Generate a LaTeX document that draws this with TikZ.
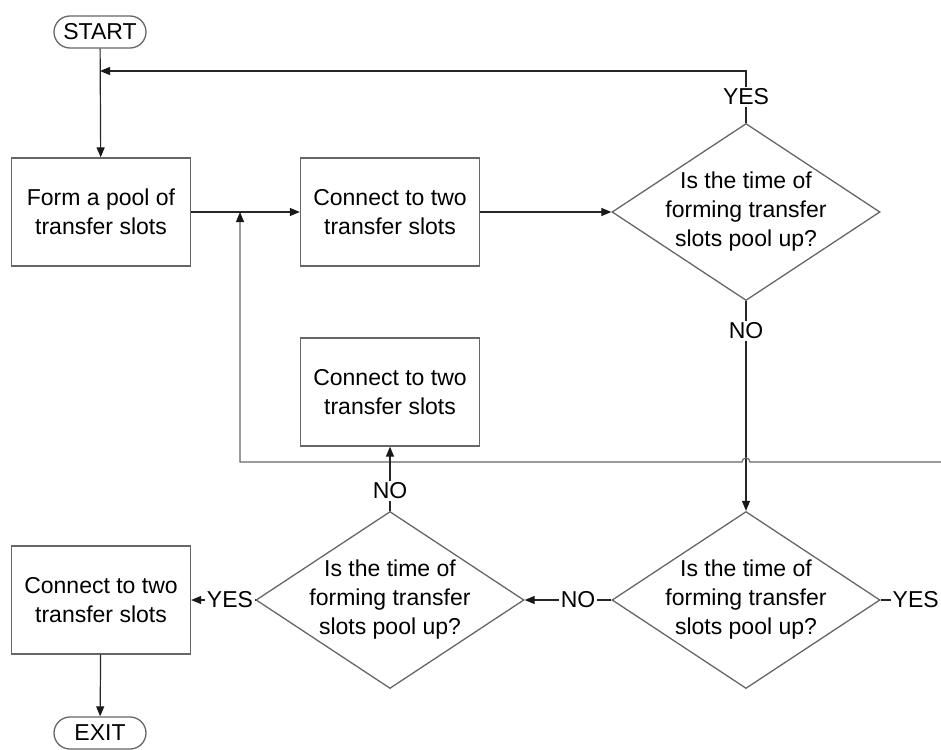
\documentclass[tikz,border=0pt]{standalone}
\usepackage{fontspec}
\setmainfont{Liberation Sans}
\usetikzlibrary{shapes.geometric,arrows.meta}
\begin{document}
\begin{tikzpicture}[x=1pt,y=-1pt,
  every node/.style={font=\fontsize{23}{29}\selectfont},
  proc/.style={draw=black!60,line width=1.3pt,minimum width=179pt,minimum height=108pt,align=center,inner sep=0pt},
  term/.style={draw=black!60,line width=1.3pt,rounded corners=16pt,minimum width=92pt,minimum height=32pt,inner sep=0pt},
  dec/.style={draw=black!60,line width=1.3pt,diamond,minimum width=268pt,minimum height=177pt,inner sep=0pt},
  dectext/.style={align=center,inner sep=0pt},
  tag/.style={inner sep=1.5pt},
  conn/.style={draw=black!85,line width=1.2pt},
  arr/.style={conn,-{Triangle[length=10pt,width=8pt,color=black!90]}}]
\useasboundingbox (0,0) rectangle (941,749);

% terminals
\node[term] (start) at (100,32) {START};
\node[term] (exit) at (100,733) {EXIT};

% process boxes
\node[proc] (pool) at (101,212) {Form a pool of\\transfer slots};
\node[proc] (conA) at (390,212) {Connect to two\\transfer slots};
\node[proc] (conB) at (390,392) {Connect to two\\transfer slots};
\node[proc] (conC) at (101,600) {Connect to two\\transfer slots};

% decisions
\node[dec] (decA) at (746,212) {};
\node[dectext] (decAt) at (decA) {Is the time of\\forming transfer\\slots pool up?};
\node[dec] (decB) at (746,600) {};
\node[dectext] (decBt) at (decB) {Is the time of\\forming transfer\\slots pool up?};
\node[dec] (decC) at (390,600) {};
\node[dectext] (decCt) at (decC) {Is the time of\\forming transfer\\slots pool up?};

% branch labels
\node[tag] (yesA) at (746,97) {YES};
\node[tag] (noA) at (746,331) {NO};
\node[tag,anchor=west] (yesB) at (891,600) {YES};
\node[tag] (noB) at (578,600) {NO};
\node[tag] (noC) at (390,491) {NO};
\node[tag] (yesC) at (230,600) {YES};

% junction points
\coordinate (jTop) at (100,71);
\coordinate (jMid) at (240,212);
\coordinate (rim) at (941,462);

% main flow
\draw[arr] (start) -- (pool);
\draw[arr] (pool) -- (conA);
\draw[arr] (conA) -- (decA.west);

% YES from the first decision back to the top
\draw[conn] (decA.north) -- (yesA);
\draw[arr] (yesA) |- (jTop);

% NO from the first decision down
\draw[conn] (decA.south) -- (noA);
\draw[arr] (noA) -- (decB.north);

% return line with a hop over the vertical
\draw[arr,draw=black!60] (rim) -- (750,462) arc[start angle=0,end angle=-180,radius=4] -- (240,462) -- (jMid);

% lower decisions
\draw[conn] (decB.east) -- (yesB);
\draw[conn] (decB.west) -- (noB);
\draw[arr] (noB) -- (decC.east);
\draw[conn] (decC.north) -- (noC);
\draw[arr] (noC) -- (conB);
\draw[conn] (decC.west) -- (yesC);
\draw[arr] (yesC) -- (conC);
\draw[arr] (conC) -- (exit);
\end{tikzpicture}
\end{document}
